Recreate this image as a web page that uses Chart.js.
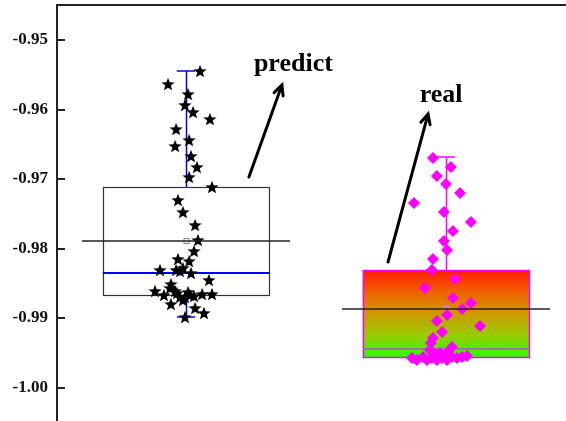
<!DOCTYPE html>
<html>
<head>
<meta charset="utf-8">
<script src="https://cdn.jsdelivr.net/npm/chart.js@4.4.0/dist/chart.umd.min.js"></script>
<style>
    html, body { margin: 0; padding: 0; background: #fff; }
    canvas { display: block; }
</style>
</head>
<body>
<canvas id="chart" width="566" height="421"></canvas>
<script>
// groups sit at x = 1 (predict) and x = 2 (real)
const groups = ["predict", "real"];
const yTicks = [-1.0, -0.99, -0.98, -0.97, -0.96, -0.95];

// box statistics
const boxLow = [-0.98669, -0.99562];
const boxHigh = [-0.97115, -0.9831];
const medians = [-0.98353, -0.99446];
const means = [-0.97892, -0.98871];
const whiskerLow = [-0.98986, -0.99562];
const whiskerHigh = [-0.95446, -0.96684];

// raw points: jitter (in group units) and value
const predictJitter = [
    0.054, -0.069, 0.008, -0.004, 0.027, 0.092, -0.038, 0.012, -0.042, 0.019,
    0.042, 0.012, 0.1, -0.031, -0.012, 0.035, 0.046, 0.031, -0.031, 0.012,
    -0.1, -0.038, -0.023, -0.012, 0.019, 0.088, -0.058, -0.062, -0.119, -0.085,
    -0.058, -0.035, -0.023, -0.004, 0.015, 0.031, 0.062, 0.1, 0.035, 0.069,
    -0.004, -0.012, -0.042, 0.008,
];
const predictValues = [
    -0.95446, -0.95633, -0.95777, -0.95935, -0.96036, -0.96137, -0.96281, -0.96439, -0.96525, -0.96669,
    -0.96827, -0.96971, -0.97115, -0.97302, -0.97475, -0.97662, -0.97878, -0.98036, -0.98151, -0.9818,
    -0.98309, -0.98309, -0.98324, -0.98281, -0.98353, -0.98453, -0.98511, -0.98568, -0.98611, -0.98669,
    -0.98799, -0.9864, -0.98698, -0.98698, -0.98669, -0.98683, -0.98655, -0.98655, -0.98856, -0.98928,
    -0.98986, -0.98741, -0.98611, -0.98626,
];
const realJitter = [
    -0.05, 0.019, -0.035, 0.0, 0.054, -0.123, -0.008, 0.096, 0.027, -0.008,
    0.004, -0.05, -0.054, 0.035, -0.081, 0.027, 0.096, 0.062, 0.004, -0.035,
    0.131, -0.015, -0.05, -0.058, 0.023, -0.131, -0.088, -0.062, -0.112, -0.073,
    -0.054, -0.035, -0.015, 0.004, 0.023, 0.042, 0.062, 0.081, -0.023, 0.008,
    -0.042,
];
const realValues = [
    -0.96698, -0.96827, -0.96957, -0.97072, -0.97201, -0.97345, -0.97475, -0.97619, -0.97748, -0.97892,
    -0.98022, -0.98151, -0.98309, -0.98439, -0.98568, -0.98712, -0.98784, -0.98871, -0.98957, -0.99043,
    -0.99115, -0.99201, -0.99288, -0.9936, -0.99417, -0.99576, -0.99561, -0.9946, -0.99604, -0.99604,
    -0.99576, -0.99604, -0.99576, -0.99604, -0.99561, -0.99576, -0.99561, -0.99547, -0.99504, -0.99489,
    -0.99518,
];

// annotation arrows (tail -> head) and labels, in data units
const arrowTail = [{ x: 1.242, y: -0.96971 }, { x: 1.777, y: -0.98194 }];
const arrowHead = [{ x: 1.369, y: -0.95647 }, { x: 1.931, y: -0.96065 }];
const labelPos = [{ x: 1.413, y: -0.95345 }, { x: 1.981, y: -0.95791 }];

const X_MIN = 0.50385;
const X_MAX = 2.46154;
const Y_MIN = -1.00482;
const Y_MAX = -0.944964;
const BOX_HALF = 0.32;
const MEAN_HALF = 0.4;
const CAP_HALF = 0.035;
const SERIF = "'Liberation Serif', 'Times New Roman', serif";

function makeStar(r, color) {
    const c = document.createElement("canvas");
    c.width = c.height = Math.ceil(r * 2 + 2);
    const ctx = c.getContext("2d");
    const cx = c.width / 2;
    const cy = c.height / 2 + r * 0.1;
    ctx.beginPath();
    for (let i = 0; i < 10; i++) {
        const rad = i % 2 === 0 ? r : r * 0.42;
        const a = -Math.PI / 2 + (i * Math.PI) / 5;
        const px = cx + rad * Math.cos(a);
        const py = cy + rad * Math.sin(a);
        i === 0 ? ctx.moveTo(px, py) : ctx.lineTo(px, py);
    }
    ctx.closePath();
    ctx.fillStyle = color;
    ctx.fill();
    return c;
}

const boxStyles = [
    { border: "#333", whisker: "#0000ff", median: "#0000ff", marker: "#888" },
    { border: "#ff00ff", whisker: "#ff00ff", median: "#a070a8", marker: "#e080e0" },
];

const boxPlugin = {
    id: "boxes",
    beforeDatasetsDraw(chart) {
        const { ctx, scales } = chart;
        const xs = scales.x, ys = scales.y;
        ctx.save();
        groups.forEach((g, i) => {
            const c = i + 1;
            const st = boxStyles[i];
            const l = xs.getPixelForValue(c - BOX_HALF);
            const r = xs.getPixelForValue(c + BOX_HALF);
            const mid = Math.round(xs.getPixelForValue(c)) + 0.5;
            const top = ys.getPixelForValue(boxHigh[i]);
            const bot = ys.getPixelForValue(boxLow[i]);
            if (i === 1) {
                const grad = ctx.createLinearGradient(0, top, 0, bot);
                grad.addColorStop(0, "#ff1a00");
                grad.addColorStop(0.25, "#f06000");
                grad.addColorStop(0.5, "#cf9a00");
                grad.addColorStop(0.75, "#98cc00");
                grad.addColorStop(1, "#28ff00");
                ctx.fillStyle = grad;
                ctx.fillRect(l, top, r - l, bot - top);
            }
            // whiskers
            ctx.strokeStyle = st.whisker;
            ctx.lineWidth = 1.5;
            const wHi = ys.getPixelForValue(whiskerHigh[i]);
            const wLo = ys.getPixelForValue(whiskerLow[i]);
            const cl = xs.getPixelForValue(c - CAP_HALF);
            const cr = xs.getPixelForValue(c + CAP_HALF);
            ctx.beginPath();
            ctx.moveTo(mid, top); ctx.lineTo(mid, wHi);
            ctx.moveTo(cl, wHi); ctx.lineTo(cr, wHi);
            ctx.moveTo(mid, bot); ctx.lineTo(mid, wLo);
            ctx.moveTo(cl, wLo); ctx.lineTo(cr, wLo);
            ctx.stroke();
            // box outline
            ctx.strokeStyle = st.border;
            ctx.lineWidth = i === 1 ? 1.5 : 1.2;
            ctx.strokeRect(Math.round(l) + 0.5, Math.round(top) + 0.5, Math.round(r - l), Math.round(bot - top));
            // median
            ctx.strokeStyle = st.median;
            ctx.lineWidth = 2;
            const my = ys.getPixelForValue(medians[i]);
            ctx.beginPath();
            ctx.moveTo(l, my); ctx.lineTo(r, my);
            ctx.stroke();
            // mean marker
            const mean = ys.getPixelForValue(means[i]);
            ctx.strokeStyle = st.marker;
            ctx.lineWidth = 1;
            ctx.strokeRect(mid - 2.5, mean - 2.5, 5, 5);
        });
        ctx.restore();
    },
    afterDatasetsDraw(chart) {
        const { ctx, scales } = chart;
        const xs = scales.x, ys = scales.y;
        ctx.save();
        // mean lines
        ctx.strokeStyle = "#222";
        ctx.lineWidth = 1.5;
        groups.forEach((g, i) => {
            const y = ys.getPixelForValue(means[i]);
            ctx.beginPath();
            ctx.moveTo(xs.getPixelForValue(i + 1 - MEAN_HALF), y);
            ctx.lineTo(xs.getPixelForValue(i + 1 + MEAN_HALF), y);
            ctx.stroke();
        });
        // arrows and labels
        ctx.strokeStyle = "#000";
        ctx.lineWidth = 3;
        ctx.lineCap = "round";
        ctx.fillStyle = "#000";
        ctx.font = "bold 26px " + SERIF;
        ctx.textAlign = "center";
        ctx.textBaseline = "middle";
        groups.forEach((g, i) => {
            const x0 = xs.getPixelForValue(arrowTail[i].x), y0 = ys.getPixelForValue(arrowTail[i].y);
            const x1 = xs.getPixelForValue(arrowHead[i].x), y1 = ys.getPixelForValue(arrowHead[i].y);
            const a = Math.atan2(y1 - y0, x1 - x0);
            ctx.beginPath();
            ctx.moveTo(x0, y0); ctx.lineTo(x1, y1);
            ctx.moveTo(x1 - 11 * Math.cos(a - 0.45), y1 - 11 * Math.sin(a - 0.45));
            ctx.lineTo(x1, y1);
            ctx.lineTo(x1 - 11 * Math.cos(a + 0.45), y1 - 11 * Math.sin(a + 0.45));
            ctx.stroke();
            ctx.fillText(g, xs.getPixelForValue(labelPos[i].x), ys.getPixelForValue(labelPos[i].y));
        });
        ctx.restore();
    },
    afterDraw(chart) {
        const { ctx, scales, chartArea } = chart;
        ctx.save();
        ctx.strokeStyle = "#222";
        ctx.lineWidth = 2;
        // top frame line
        ctx.beginPath();
        ctx.moveTo(chartArea.left - 1, chartArea.top);
        ctx.lineTo(chartArea.right, chartArea.top);
        // inward ticks
        yTicks.forEach((v) => {
            const y = Math.round(scales.y.getPixelForValue(v));
            ctx.moveTo(chartArea.left, y);
            ctx.lineTo(chartArea.left + 8, y);
        });
        ctx.stroke();
        ctx.restore();
    },
};

new Chart(document.getElementById("chart"), {
    type: "scatter",
    data: {
        datasets: [
            {
                label: "predict",
                data: predictValues.map((v, i) => ({ x: 1 + predictJitter[i], y: v })),
                pointStyle: makeStar(7, "#000"),
                clip: false,
            },
            {
                label: "real",
                data: realValues.map((v, i) => ({ x: 2 + realJitter[i], y: v })),
                pointStyle: "rectRot",
                pointRadius: 6,
                backgroundColor: "#ff00ff",
                borderColor: "#ff00ff",
                borderWidth: 0,
                clip: false,
            },
        ],
    },
    options: {
        responsive: false,
        animation: false,
        devicePixelRatio: 1,
        layout: { autoPadding: false, padding: { top: 5, right: 0, bottom: 0, left: 0 } },
        plugins: {
            legend: { display: false },
            tooltip: { enabled: false },
        },
        scales: {
            x: { type: "linear", display: false, min: X_MIN, max: X_MAX },
            y: {
                min: Y_MIN,
                max: Y_MAX,
                afterFit(scale) {
                    scale.width = 57;
                    scale.paddingTop = 0;
                    scale.paddingBottom = 0;
                },
                afterBuildTicks(scale) {
                    scale.ticks = yTicks.map((v) => ({ value: v }));
                },
                ticks: {
                    font: { family: SERIF, size: 17, weight: "bold" },
                    color: "#111",
                    padding: 9,
                    callback: (v) => v.toFixed(2),
                },
                grid: { display: false, drawTicks: false },
                border: { display: true, color: "#222", width: 2 },
            },
        },
    },
    plugins: [boxPlugin],
});
</script>
</body>
</html>
